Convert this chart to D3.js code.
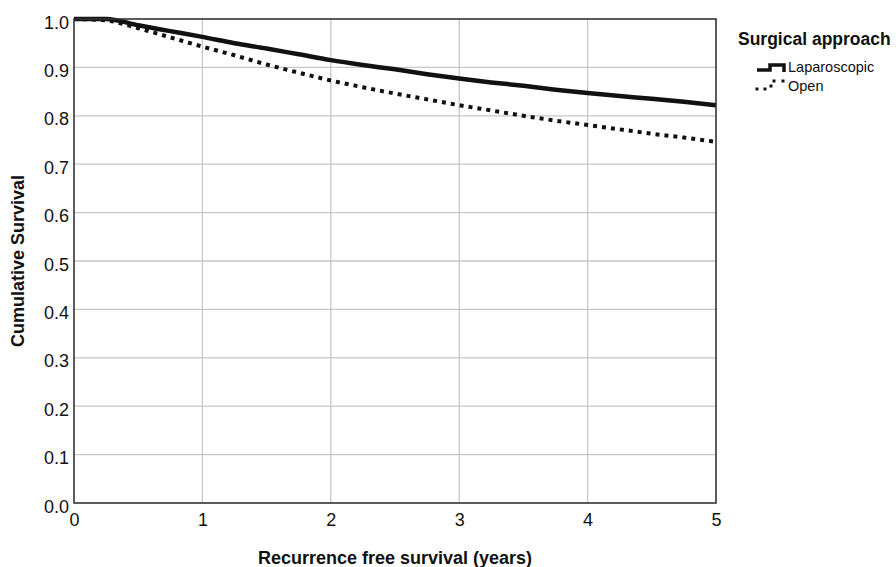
<!DOCTYPE html>
<html>
<head>
<meta charset="utf-8">
<script src="https://cdn.jsdelivr.net/npm/d3@7"></script>
<style>
  body { margin: 0; background: #fff; }
  text { font-family: "Liberation Sans", Arial, sans-serif; fill: #111; }
</style>
</head>
<body>
<div id="chart"></div>
<script>
// Kaplan-Meier estimates (years -> cumulative survival)
const times = [0, 0.25, 0.5, 0.75, 1, 1.25, 1.5, 1.75, 2, 2.25, 2.5, 2.75, 3, 3.25, 3.5, 3.75, 4, 4.25, 4.5, 4.75, 5];
const laparoscopic = [1.0, 1.0, 0.987, 0.975, 0.963, 0.950, 0.939, 0.927, 0.915, 0.905, 0.896, 0.886, 0.877, 0.869, 0.862, 0.854, 0.847, 0.841, 0.835, 0.829, 0.822];
const open = [1.0, 0.997, 0.981, 0.962, 0.943, 0.925, 0.906, 0.889, 0.873, 0.859, 0.846, 0.834, 0.822, 0.811, 0.800, 0.790, 0.781, 0.772, 0.763, 0.755, 0.746];
const xTicks = [0, 1, 2, 3, 4, 5];
const yTicks = [0, 0.1, 0.2, 0.3, 0.4, 0.5, 0.6, 0.7, 0.8, 0.9, 1.0];
const seriesNames = ["Laparoscopic", "Open"];

const W = 896, H = 567;
const margin = { left: 74, top: 19, right: 180, bottom: 64 };
const innerW = W - margin.left - margin.right;   // 642
const innerH = H - margin.top - margin.bottom;   // 484

const svg = d3.select("#chart").append("svg")
  .attr("width", W)
  .attr("height", H);

svg.append("rect").attr("width", W).attr("height", H).attr("fill", "white");

const x = d3.scaleLinear().domain([0, 5]).range([0, innerW]);
const y = d3.scaleLinear().domain([0, 1]).range([innerH, 0]);

const g = svg.append("g").attr("transform", `translate(${margin.left},${margin.top})`);

// grid lines
g.append("g").selectAll("line").data(yTicks.slice(1, -1)).join("line")
  .attr("x1", 0).attr("x2", innerW)
  .attr("y1", d => y(d)).attr("y2", d => y(d))
  .attr("stroke", "#c6c6c6").attr("stroke-width", 1.3);
g.append("g").selectAll("line").data(xTicks.slice(1, -1)).join("line")
  .attr("y1", 0).attr("y2", innerH)
  .attr("x1", d => x(d)).attr("x2", d => x(d))
  .attr("stroke", "#c6c6c6").attr("stroke-width", 1.3);

// axes (labels only, no tick marks)
const yAxis = g.append("g")
  .call(d3.axisLeft(y).tickValues(yTicks).tickFormat(d3.format(".1f")).tickSize(0).tickPadding(5));
yAxis.select(".domain").remove();
yAxis.selectAll("text").attr("font-size", 18).attr("dy", "0.5em")
  .style("font-family", '"Liberation Sans", Arial, sans-serif').attr("fill", "#111");

const xAxis = g.append("g").attr("transform", `translate(0,${innerH})`)
  .call(d3.axisBottom(x).tickValues(xTicks).tickFormat(d3.format("d")).tickSize(0).tickPadding(10));
xAxis.select(".domain").remove();
xAxis.selectAll("text").attr("font-size", 18)
  .style("font-family", '"Liberation Sans", Arial, sans-serif').attr("fill", "#111");

// curves
const line = d3.line()
  .x((d, i) => x(times[i]))
  .y(d => y(d))
  .curve(d3.curveMonotoneX);

g.append("path").datum(open)
  .attr("d", line)
  .attr("fill", "none")
  .attr("stroke", "#111")
  .attr("stroke-width", 4)
  .attr("stroke-dasharray", "4,5");

g.append("path").datum(laparoscopic)
  .attr("d", line)
  .attr("fill", "none")
  .attr("stroke", "#111")
  .attr("stroke-width", 4.5)
  .attr("stroke-linejoin", "round");

// plot frame
g.append("rect")
  .attr("width", innerW).attr("height", innerH)
  .attr("fill", "none").attr("stroke", "#333").attr("stroke-width", 1.6);

// axis titles
svg.append("text")
  .attr("x", margin.left + innerW / 2).attr("y", 564)
  .attr("text-anchor", "middle")
  .attr("font-size", 18).attr("font-weight", "bold")
  .text("Recurrence free survival (years)");

svg.append("text")
  .attr("transform", `translate(24,${margin.top + innerH / 2}) rotate(-90)`)
  .attr("text-anchor", "middle")
  .attr("font-size", 18).attr("font-weight", "bold")
  .text("Cumulative Survival");

// legend
const leg = svg.append("g").attr("transform", "translate(738,0)");
leg.append("text").attr("x", 0).attr("y", 45)
  .attr("font-size", 17.5).attr("font-weight", "bold")
  .text("Surgical approach");

// Laparoscopic symbol: a short KM step
leg.append("path")
  .attr("d", "M19,70 L32,70 L32,65 L46,65 L46,72")
  .attr("fill", "none").attr("stroke", "#111").attr("stroke-width", 3.5);
// Open symbol: dotted step
leg.append("g").selectAll("rect")
  .data([[19, 89], [27, 89], [33, 86], [36, 81], [45, 81]])
  .join("rect")
  .attr("x", d => d[0] - 1.5).attr("y", d => d[1] - 1.5)
  .attr("width", 3).attr("height", 3).attr("fill", "#111");

leg.selectAll("text.item").data(seriesNames).join("text")
  .attr("class", "item")
  .attr("x", 50).attr("y", (d, i) => 72 + i * 19)
  .attr("font-size", 14.5)
  .text(d => d);
</script>
</body>
</html>
